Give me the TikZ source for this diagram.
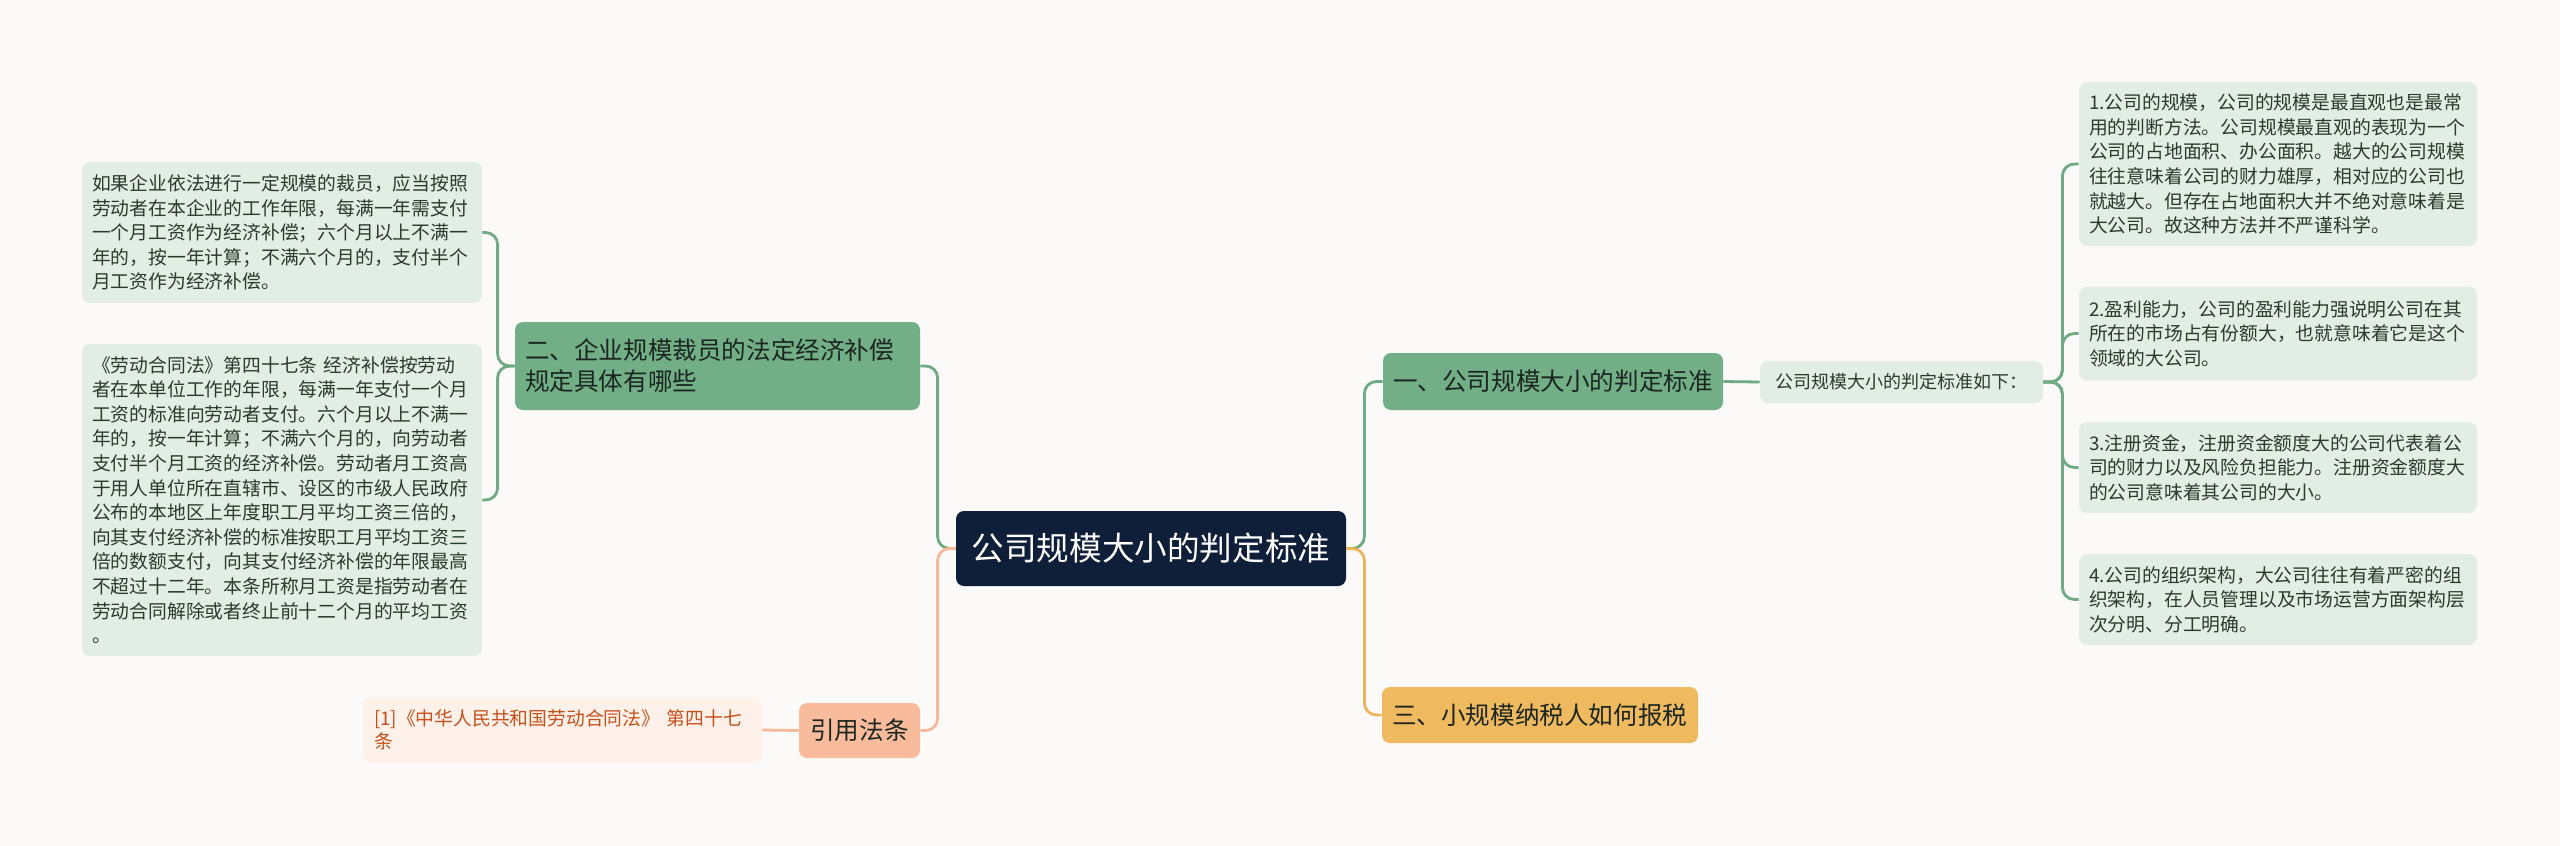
\documentclass[tikz,border=0pt]{standalone}
\usepackage{fontspec}
\setmainfont{Noto Sans CJK SC}
\definecolor{bg}{HTML}{FCFAF8}
\definecolor{navy}{HTML}{0F1F3A}
\definecolor{gbranch}{HTML}{72AF86}
\definecolor{gleaf}{HTML}{E2EEE5}
\definecolor{gline}{HTML}{6EAA84}
\definecolor{gtext}{HTML}{2A3A2F}
\definecolor{btext}{HTML}{1C2620}
\definecolor{obranch}{HTML}{EFBA5F}
\definecolor{oline}{HTML}{EBB65A}
\definecolor{sbranch}{HTML}{F8BC9C}
\definecolor{sline}{HTML}{F6B898}
\definecolor{sleaf}{HTML}{FEF1EA}
\definecolor{stext}{HTML}{C6501A}
\tikzset{
  box/.style={rectangle, rounded corners=4pt, inner ysep=0pt, anchor=center},
  rootbox/.style={box, fill=navy, text=white, minimum width=195pt, minimum height=37.5pt,
    font=\fontsize{16.3pt}{20pt}\selectfont},
  gbr/.style={box, fill=gbranch, text=btext, inner xsep=5pt, align=left,
    font=\fontsize{12.3pt}{15.5pt}\selectfont},
  obr/.style={box, fill=obranch, text=btext, inner xsep=5pt, align=left,
    font=\fontsize{12.3pt}{15.5pt}\selectfont},
  sbr/.style={box, fill=sbranch, text=btext, inner xsep=3pt, align=center,
    font=\fontsize{12.3pt}{15.5pt}\selectfont},
  gleafbox/.style={box, fill=gleaf, text=gtext, inner xsep=5pt, align=left,
    font=\fontsize{9.4pt}{12.3pt}\selectfont},
  sleafbox/.style={box, fill=sleaf, text=stext, inner xsep=5.5pt, align=left,
    font=\fontsize{9.4pt}{11.6pt}\selectfont},
  conn/.style={line width=1.4pt, rounded corners=6pt},
}
\begin{document}
\begin{tikzpicture}[x=0.5pt,y=-0.5pt]
\useasboundingbox[fill=bg] (0,0) rectangle (2560,846);

% root
\node[rootbox] (root) at (1151,548.5) {公司规模大小的判定标准};

% right branches
\node[gbr, text width=160pt, minimum height=28.5pt] (b1) at (1553,381.5) {一、公司规模大小的判定标准};
\node[obr, text width=148pt, minimum height=28pt] (b3) at (1540,715) {三、小规模纳税人如何报税};

% left branches
\node[gbr, text width=192.5pt, minimum height=44pt] (b2) at (717.5,366) {二、企业规模裁员的法定经济补偿\\规定具体有哪些};
\node[sbr, minimum width=60.5pt, minimum height=27.5pt] (b4) at (859.5,730.5) {引用法条};

% small leaf under branch one
\node[box, fill=gleaf, text=gtext, align=center, minimum width=141.5pt, minimum height=21pt,
  font=\fontsize{9pt}{11pt}\selectfont] (s) at (1901.5,382) {公司规模大小的判定标准如下：};

% right leaves
\node[gleafbox, text width=189pt, minimum height=82pt] (r1) at (2278,164) {1.公司的规模，公司的规模是最直观也是最常\\用的判断方法。公司规模最直观的表现为一个\\公司的占地面积、办公面积。越大的公司规模\\往往意味着公司的财力雄厚，相对应的公司也\\就越大。但存在占地面积大并不绝对意味着是\\大公司。故这种方法并不严谨科学。};
\node[gleafbox, text width=189pt, minimum height=47pt] (r2) at (2278,333.5) {2.盈利能力，公司的盈利能力强说明公司在其\\所在的市场占有份额大，也就意味着它是这个\\领域的大公司。};
\node[gleafbox, text width=189pt, minimum height=45.5pt] (r3) at (2278,467.5) {3.注册资金，注册资金额度大的公司代表着公\\司的财力以及风险负担能力。注册资金额度大\\的公司意味着其公司的大小。};
\node[gleafbox, text width=189pt, minimum height=45.5pt] (r4) at (2278,599.5) {4.公司的组织架构，大公司往往有着严密的组\\织架构，在人员管理以及市场运营方面架构层\\次分明、分工明确。};

% left leaves
\node[gleafbox, text width=190pt, minimum height=70.5pt] (l1) at (282,232.5) {如果企业依法进行一定规模的裁员，应当按照\\劳动者在本企业的工作年限，每满一年需支付\\一个月工资作为经济补偿；六个月以上不满一\\年的，按一年计算；不满六个月的，支付半个\\月工资作为经济补偿。};
\node[gleafbox, text width=190pt, minimum height=156pt] (l2) at (282,500) {《劳动合同法》第四十七条 经济补偿按劳动\\者在本单位工作的年限，每满一年支付一个月\\工资的标准向劳动者支付。六个月以上不满一\\年的，按一年计算；不满六个月的，向劳动者\\支付半个月工资的经济补偿。劳动者月工资高\\于用人单位所在直辖市、设区的市级人民政府\\公布的本地区上年度职工月平均工资三倍的，\\向其支付经济补偿的标准按职工月平均工资三\\倍的数额支付，向其支付经济补偿的年限最高\\不超过十二年。本条所称月工资是指劳动者在\\劳动合同解除或者终止前十二个月的平均工资\\。};

% citation leaf
\node[sleafbox, text width=188.5pt, minimum height=33pt] (cit) at (562.5,730) {[1]《中华人民共和国劳动合同法》 第四十七\\条};

% connectors: root -> branches
\draw[conn, draw=gline] (root.west) -- ++(-18,0) |- (b2.east);
\draw[conn, draw=sline] (root.west) -- ++(-18,0) |- (b4.east);
\draw[conn, draw=gline] (root.east) -- ++(18,0) |- (b1.west);
\draw[conn, draw=oline] (root.east) -- ++(18,0) |- (b3.west);

% branch one
\draw[conn, draw=gline] (b1.east) -- (s.west);
\draw[conn, draw=gline] (s.east) -- ++(19,0) |- (r1.west);
\draw[conn, draw=gline] (s.east) -- ++(19,0) |- (r2.west);
\draw[conn, draw=gline] (s.east) -- ++(19,0) |- (r3.west);
\draw[conn, draw=gline] (s.east) -- ++(19,0) |- (r4.west);

% branch two
\draw[conn, draw=gline] (b2.west) -- ++(-17,0) |- (l1.east);
\draw[conn, draw=gline] (b2.west) -- ++(-17,0) |- (l2.east);

% citation
\draw[conn, draw=sline] (b4.west) -- (cit.east);
\end{tikzpicture}
\end{document}
